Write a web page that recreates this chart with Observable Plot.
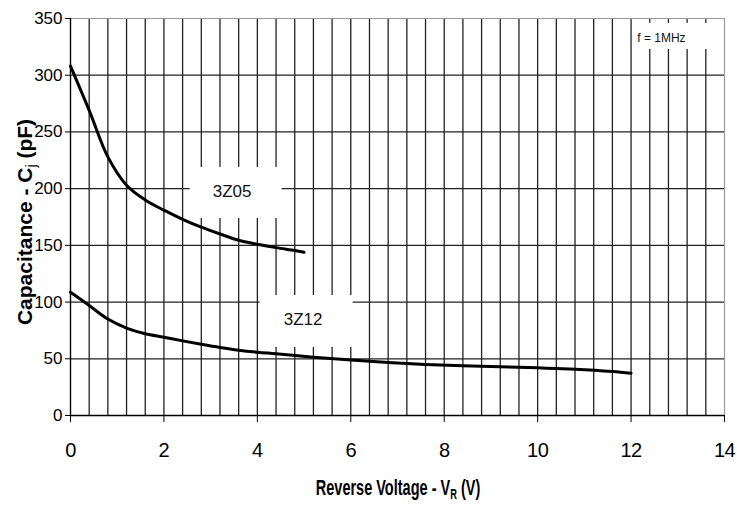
<!DOCTYPE html>
<html><head><meta charset="utf-8">
<script src="https://cdn.jsdelivr.net/npm/d3@7"></script>
<script src="https://cdn.jsdelivr.net/npm/@observablehq/plot@0.6"></script>
<style>body{margin:0;background:#fff} svg{display:block}</style>
</head><body><div id="chart"></div>
<script>
// Reverse voltage (V) and capacitance (pF) for each diode
const v3Z05 = [0, 0.4, 0.8, 1.2, 1.6, 2.0, 2.4, 2.8, 3.2, 3.6, 4.0, 4.4, 4.8, 5.0];
const c3Z05 = [308, 269, 228, 203, 190, 181, 173, 166, 160, 154.5, 151, 148, 145.5, 144];
const v3Z12 = [0, 0.4, 0.8, 1.2, 1.6, 2.0, 2.4, 2.8, 3.2, 3.6, 4.0, 4.4, 5.2, 6.0, 6.8, 7.6, 8.4, 9.2, 10.0, 10.8, 11.6, 12.0];
const c3Z12 = [108.7, 97, 85, 77, 72, 69, 65.8, 62.8, 60, 57.6, 55.8, 54.4, 51.4, 49, 46.7, 45, 43.8, 43, 42, 40.8, 38.8, 37.3];

const xTicks = [0, 2, 4, 6, 8, 10, 12, 14];
const yTicks = [0, 50, 100, 150, 200, 250, 300, 350];
const gridX = [0.4, 0.8, 1.2, 1.6, 2.0, 2.4, 2.8, 3.2, 3.6, 4.0, 4.4, 4.8, 5.2, 5.6, 6.0, 6.4, 6.8, 7.2, 7.6, 8.0,
               8.4, 8.8, 9.2, 9.6, 10.0, 10.4, 10.8, 11.2, 11.6, 12.0, 12.4, 12.8, 13.2, 13.6];

// Annotation labels (text in white boxes), in data coordinates
const labelText = ["3Z05", "3Z12", "f = 1MHz"];
const labelX = [3.46, 4.98, 12.65];
const labelY = [197.5, 84.7, 333];
const boxX1 = [2.56, 4.06, 12.05];
const boxX2 = [4.53, 6.05, 13.98];
const boxY1 = [173.7, 60, 322.7];
const boxY2 = [218.7, 105.8, 345.7];

const data = [
  ...v3Z05.map((v, i) => ({series: "3Z05", v, c: c3Z05[i]})),
  ...v3Z12.map((v, i) => ({series: "3Z12", v, c: c3Z12[i]}))
];
const boxes = labelText.map((t, i) => ({t, x: labelX[i], y: labelY[i], x1: boxX1[i], x2: boxX2[i], y1: boxY1[i], y2: boxY2[i]}));

const W = 737, H = 505, ML = 70, MR = 13, MT = 18, MB = 90;
const font = "'Liberation Sans', Arial, Helvetica, sans-serif";

const plot = Plot.plot({
  width: W, height: H,
  marginLeft: ML, marginRight: MR, marginTop: MT, marginBottom: MB,
  x: {domain: [0, 14]},
  y: {domain: [0, 350]},
  style: {fontFamily: font, background: "#fff", color: "#000"},
  marks: [
    Plot.ruleX(gridX, {stroke: "#222", strokeWidth: 1.3}),
    Plot.ruleY(yTicks.filter(d => d > 0 && d < 350), {stroke: "#222", strokeWidth: 1.3}),
    Plot.ruleY([350], {stroke: "#9a9a9a", strokeWidth: 1.2}),
    Plot.ruleX([14], {stroke: "#9a9a9a", strokeWidth: 1.2}),
    Plot.rect(boxes, {x1: "x1", x2: "x2", y1: "y1", y2: "y2", fill: "#fff"}),
    Plot.ruleX([0], {stroke: "#000", strokeWidth: 1.4}),
    Plot.ruleY([0], {stroke: "#000", strokeWidth: 1.4}),
    Plot.line(data, {x: "v", y: "c", z: "series", curve: "catmull-rom", stroke: "#000", strokeWidth: 3}),
    Plot.text(boxes.slice(0, 2), {x: "x", y: "y", text: "t", fontSize: 17, fill: "#111"}),
    Plot.text(boxes.slice(2), {x: "x", y: "y", text: "t", fontSize: 12, fill: "#111"}),
    Plot.axisX({ticks: xTicks, tickSize: 7, tickPadding: 20, label: null, fontSize: 20}),
    Plot.axisY({ticks: yTicks, tickSize: 5, tickPadding: 3, label: null, fontSize: 17})
  ]
});

document.getElementById("chart").appendChild(plot);

const svg = d3.select(plot);
svg.selectAll('g[aria-label="x-axis tick label"] text').style("font-size", "20px").style("letter-spacing", "-0.5px");
svg.selectAll('g[aria-label="y-axis tick label"] text').style("font-size", "17px");

// X axis title (condensed, bold) with subscript R
const xt = svg.append("text")
  .attr("transform", `translate(${(ML + W - MR) / 2 + 1},495) scale(0.66,1)`)
  .attr("text-anchor", "middle")
  .attr("font-family", font)
  .attr("font-weight", "bold")
  .attr("font-size", 22)
  .attr("fill", "#000");
xt.append("tspan").text("Reverse Voltage - V");
xt.append("tspan").attr("font-size", 14).attr("dy", 4).text("R");
xt.append("tspan").attr("dy", -4).text(" (V)");

// Y axis title (bold, rotated) with subscript j
const yt = svg.append("text")
  .attr("transform", "translate(32,222) rotate(-90)")
  .attr("text-anchor", "middle")
  .attr("font-family", font)
  .attr("font-weight", "bold")
  .attr("font-size", 21)
  .attr("fill", "#000");
yt.append("tspan").text("Capacitance - C");
yt.append("tspan").attr("font-size", 14).attr("font-weight", "normal").attr("dy", 4).text("j");
yt.append("tspan").attr("dy", -4).text(" (pF)");
</script>
</body></html>
